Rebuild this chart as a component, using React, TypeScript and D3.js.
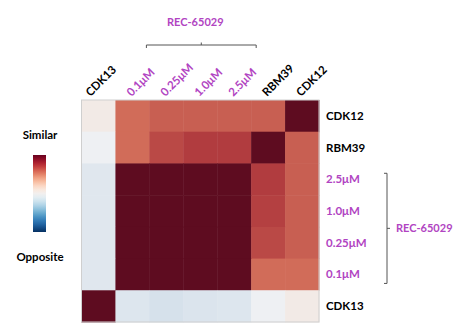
import React from "react";
import * as d3 from "d3";

const colLabels = ["CDK13", "0.1μM", "0.25μM", "1.0μM", "2.5μM", "RBM39", "CDK12"];
const rowLabels = ["CDK12", "RBM39", "2.5μM", "1.0μM", "0.25μM", "0.1μM", "CDK13"];
const purpleLabels = ["0.1μM", "0.25μM", "1.0μM", "2.5μM"];

const rowCDK12 = [0.05, 0.52, 0.58, 0.58, 0.58, 0.58, 1];
const rowRBM39 = [-0.02, 0.52, 0.68, 0.74, 0.74, 1, 0.58];
const row25 = [-0.08, 1, 1, 1, 1, 0.74, 0.58];
const row10 = [-0.08, 1, 1, 1, 1, 0.72, 0.58];
const row025 = [-0.08, 1, 1, 1, 1, 0.68, 0.58];
const row01 = [-0.08, 1, 1, 1, 1, 0.52, 0.52];
const rowCDK13 = [1, -0.09, -0.12, -0.1, -0.09, -0.02, 0.05];
const matrix = [rowCDK12, rowRBM39, row25, row10, row025, row01, rowCDK13];

const groupLabel = "REC-65029";
const legendTop = "Similar";
const legendBottom = "Opposite";

const W = 453, H = 326;
const gx0 = 81.5, gx1 = 319, gy0 = 100, gy1 = 322;
const PURPLE = "#b144c2";
const FONT = "Lato, 'Open Sans', sans-serif";
const FS = 11.5;

export default function App() {
  const x = d3.scaleBand<string>().domain(colLabels).range([gx0, gx1]);
  const y = d3.scaleBand<string>().domain(rowLabels).range([gy0, gy1]);
  const color = d3
    .scaleLinear<string>()
    .domain([-1, -0.5, 0, 0.25, 0.5, 0.75, 1])
    .range(["#1b3a72", "#7ba9d0", "#f3f3f4", "#f0c4b0", "#d4705b", "#b03a3e", "#5e0c20"])
    .interpolate(d3.interpolateRgb)
    .clamp(true);

  const barScale = d3.scaleLinear().domain([1, -1]).range([0, 100]);
  const stops = d3.range(10, -10.5, -1).map((v) => v / 10);

  const cells: JSX.Element[] = [];
  matrix.forEach((row, i) =>
    row.forEach((v, j) => {
      cells.push(
        <rect
          key={`${i}-${j}`}
          x={x(colLabels[j])}
          y={y(rowLabels[i])}
          width={x.bandwidth() + 0.5}
          height={y.bandwidth() + 0.5}
          fill={color(v)}
        />
      );
    })
  );

  const bw = x.bandwidth();
  const bh = y.bandwidth();
  const topA = x("0.1μM")! + bw / 2 + 14;
  const topB = x("2.5μM")! + bw / 2 + 22;
  const rA = y("2.5μM")! + bh / 2 - 6;
  const rB = y("0.1μM")! + bh / 2 + 9;
  const bx = 387;

  return (
    <svg width={W} height={H} style={{ position: "absolute", left: 0, top: 0 }} fontFamily={FONT}>
      <defs>
        <linearGradient id="cbar" x1="0" y1="0" x2="0" y2="1">
          {stops.map((v) => (
            <stop key={String(v)} offset={`${barScale(v)}%`} stopColor={d3.interpolateRdBu((1 - v) / 2)} />
          ))}
        </linearGradient>
      </defs>
      <rect width={W} height={H} fill="#fff" />
      {cells}
      <rect x={gx0} y={gy0} width={gx1 - gx0} height={gy1 - gy0} fill="none" stroke="#cfcfcf" strokeWidth={1} />
      {colLabels.map((c, i) => (
        <text
          key={c}
          transform={`translate(${x(c)! + bw / 2 - (i === 0 ? 8 : 1)},${gy0 - 3}) rotate(-45)`}
          fontSize={FS}
          fontWeight="bold"
          fill={purpleLabels.includes(c) ? PURPLE : "#000"}
        >
          {c}
        </text>
      ))}
      {rowLabels.map((r) => (
        <text
          key={r}
          x={gx1 + 7}
          y={y(r)! + bh / 2}
          dy="0.35em"
          fontSize={FS}
          fontWeight="bold"
          fill={purpleLabels.includes(r) ? PURPLE : "#000"}
        >
          {r}
        </text>
      ))}
      <path
        d={`M${topA},48 V45 H${topB} V48 M${(topA + topB) / 2},45 V42.5`}
        fill="none"
        stroke="#555"
        strokeWidth={1}
      />
      <text x={(topA + topB) / 2 - 6} y={22} dy="0.35em" textAnchor="middle" fontSize={11} fontWeight="bold" fill={PURPLE}>
        {groupLabel}
      </text>
      <path
        d={`M${bx - 3},${rA} H${bx} V${rB} H${bx - 3} M${bx},${(rA + rB) / 2} H${bx + 3}`}
        fill="none"
        stroke="#555"
        strokeWidth={1}
      />
      <text x={bx + 9} y={(rA + rB) / 2} dy="0.35em" fontSize={11} fontWeight="bold" fill={PURPLE}>
        {groupLabel}
      </text>
      <text x={40} y={135} dy="0.35em" textAnchor="middle" fontSize={FS} fontWeight="bold" fill="#000">
        {legendTop}
      </text>
      <rect x={33} y={155} width={13} height={77} fill="url(#cbar)" />
      <text x={40} y={257} dy="0.35em" textAnchor="middle" fontSize={FS} fontWeight="bold" fill="#000">
        {legendBottom}
      </text>
    </svg>
  );
}
